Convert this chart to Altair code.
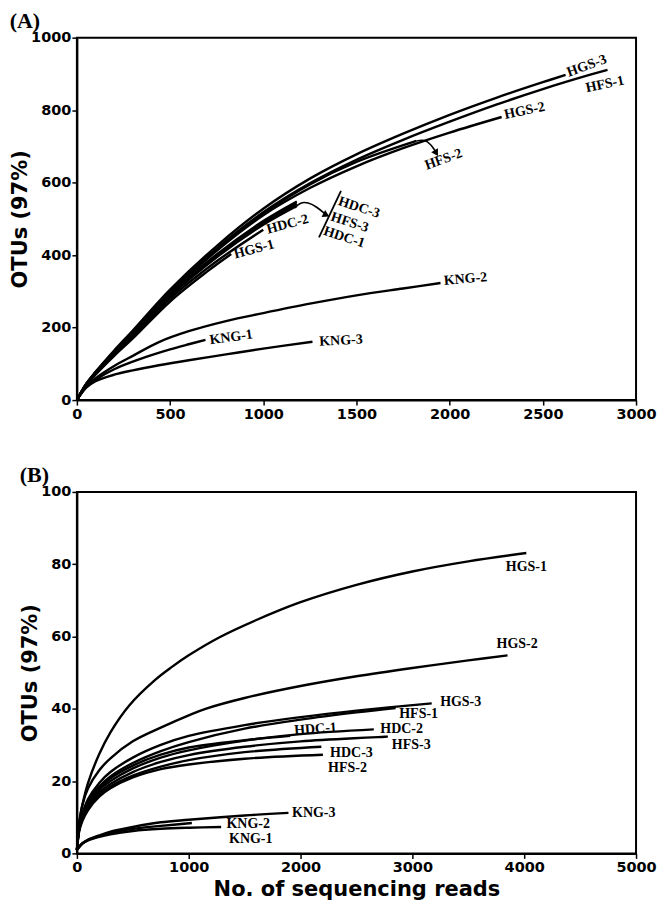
import altair as alt
import pandas as pd

# ---------------- Panel A data (reads vs OTUs) ----------------
A_NAMES = ["HGS-3", "HFS-1", "HGS-2", "HFS-2", "HDC-3", "HFS-3", "HDC-1",
           "HDC-2", "HGS-1", "KNG-2", "KNG-1", "KNG-3"]
A_X = {
    "HGS-3": [0, 50, 100, 200, 300, 500, 750, 1000, 1250, 1500, 1750, 2000, 2250, 2500, 2622],
    "HFS-1": [0, 50, 100, 200, 300, 500, 750, 1000, 1250, 1500, 1750, 2000, 2250, 2500, 2750, 2847],
    "HGS-2": [0, 50, 100, 200, 300, 500, 750, 1000, 1250, 1500, 1750, 2000, 2279],
    "HFS-2": [0, 50, 100, 200, 300, 500, 750, 1000, 1250, 1500, 1822],
    "HDC-3": [0, 50, 100, 200, 300, 500, 750, 1000, 1180],
    "HFS-3": [0, 50, 100, 200, 300, 500, 750, 1000, 1180],
    "HDC-1": [0, 50, 100, 200, 300, 500, 750, 1000, 1180],
    "HDC-2": [0, 50, 100, 200, 300, 500, 750, 1000],
    "HGS-1": [0, 50, 100, 200, 300, 500, 700, 828],
    "KNG-2": [0, 50, 100, 200, 300, 440, 600, 800, 1000, 1250, 1500, 1750, 1951],
    "KNG-1": [0, 50, 100, 200, 300, 400, 500, 600, 690],
    "KNG-3": [0, 50, 100, 200, 300, 440, 600, 800, 1000, 1264],
}
A_Y = {
    "HGS-3": [0, 45, 78, 137, 192, 305, 425, 528, 611, 678, 735, 787, 834, 877, 897],
    "HFS-1": [0, 44, 76, 134, 188, 300, 418, 518, 598, 663, 718, 768, 815, 858, 897, 911],
    "HGS-2": [0, 43, 75, 132, 186, 296, 412, 510, 585, 645, 695, 738, 781],
    "HFS-2": [0, 44, 76, 133, 187, 298, 415, 514, 595, 657, 715],
    "HDC-3": [0, 44, 75, 132, 184, 292, 402, 494, 548],
    "HFS-3": [0, 43, 74, 130, 182, 289, 398, 489, 542],
    "HDC-1": [0, 43, 74, 129, 180, 286, 394, 484, 536],
    "HDC-2": [0, 42, 72, 126, 176, 280, 383, 470],
    "HGS-1": [0, 41, 70, 122, 170, 272, 355, 403],
    "KNG-2": [0, 38, 60, 94, 122, 160, 190, 218, 240, 266, 289, 308, 323],
    "KNG-1": [0, 36, 56, 85, 106, 124, 140, 154, 166],
    "KNG-3": [0, 34, 52, 70, 82, 96, 110, 126, 142, 161],
}
A_LABELS = ["HGS-3", "HFS-1", "HGS-2", "HFS-2", "HDC-3", "HFS-3", "HDC-1",
            "HDC-2", "HGS-1", "KNG-2", "KNG-1", "KNG-3"]
A_LABEL_X = [2736, 2833, 2402, 1967, 1514, 1464, 1434, 1130, 951, 2085, 828, 1417]
A_LABEL_Y = [922, 871, 798, 664, 531, 490, 449, 485, 416, 334, 173, 164]
A_LABEL_ANGLE = [340, 348, 348, 340, 18, 18, 18, 345, 345, 355, 352, 357]

# annotation arrows / bracket in panel A
ARROW1_X = [1170, 1195, 1240, 1290, 1330]
ARROW1_Y = [530, 545, 546, 532, 514]
ARROW2_X = [1822, 1865, 1900, 1922]
ARROW2_Y = [715, 719, 705, 688]
BAR_X = [1417, 1299]
BAR_Y = [577, 449]
HEAD_X = [1333, 1925]
HEAD_Y = [512, 684]
HEAD_ANGLE = [118, 150]

# ---------------- Panel B data ----------------
B_NAMES = ["HGS-1", "HGS-2", "HGS-3", "HFS-1", "HDC-1", "HDC-2", "HFS-3",
           "HDC-3", "HFS-2", "KNG-3", "KNG-2", "KNG-1"]
B_X = {
    "HGS-1": [1, 20, 50, 100, 200, 300, 470, 700, 850, 1000, 1276, 1600, 2000, 2500, 3000, 3500, 4019],
    "HGS-2": [1, 20, 50, 100, 200, 300, 500, 750, 1000, 1150, 1500, 2000, 2500, 3000, 3500, 3851],
    "HGS-3": [1, 20, 50, 100, 200, 300, 500, 750, 1000, 1500, 2000, 2500, 3173],
    "HFS-1": [1, 20, 50, 100, 200, 300, 500, 750, 1000, 1500, 2000, 2500, 2850],
    "HDC-1": [1, 20, 50, 100, 200, 300, 500, 750, 1000, 1500, 1907],
    "HDC-2": [1, 20, 50, 100, 200, 300, 500, 750, 1000, 1500, 2000, 2655],
    "HFS-3": [1, 20, 50, 100, 200, 300, 500, 750, 1000, 1500, 2000, 2781],
    "HDC-3": [1, 20, 50, 100, 200, 300, 500, 750, 1000, 1500, 2186],
    "HFS-2": [1, 20, 50, 100, 200, 300, 500, 750, 1000, 1500, 2200],
    "KNG-3": [1, 50, 100, 200, 300, 500, 750, 1000, 1500, 1892],
    "KNG-2": [1, 50, 100, 200, 300, 500, 750, 1028],
    "KNG-1": [1, 50, 100, 200, 300, 500, 750, 1000, 1290],
}
B_Y = {
    "HGS-1": [1, 8.5, 13.5, 19.5, 27.5, 33.5, 41, 48, 51.6, 54.8, 59.8, 64.5, 69.5, 74.3, 78, 80.8, 83.1],
    "HGS-2": [1, 8, 13.5, 18, 23, 26.3, 31, 34.8, 38.2, 40, 43, 46.3, 49, 51.3, 53.4, 54.8],
    "HGS-3": [1, 7, 11, 15, 19.5, 22.5, 26.5, 30, 32.5, 35.5, 37.7, 39.5, 41.5],
    "HFS-1": [1, 7, 10.5, 14.5, 18.5, 21.3, 25, 28.3, 30.8, 34.5, 37, 39, 40.2],
    "HDC-1": [1, 7, 10.5, 14, 18, 20.8, 24.3, 27.3, 29.3, 31.3, 32.5],
    "HDC-2": [1, 6.5, 10, 13.5, 17.5, 20, 23.5, 26.5, 28.5, 31.2, 33, 34.3],
    "HFS-3": [1, 6.5, 10, 13, 16.8, 19.2, 22.5, 25.3, 27.2, 29.5, 31, 32.3],
    "HDC-3": [1, 6.5, 9.5, 12.5, 16.2, 18.5, 21.5, 24, 25.8, 28, 29.5],
    "HFS-2": [1, 6, 9, 12, 15.7, 18, 21, 23.3, 24.6, 26.2, 27.3],
    "KNG-3": [1, 2.8, 3.8, 5, 6, 7.3, 8.6, 9.3, 10.5, 11.2],
    "KNG-2": [1, 2.8, 3.7, 4.8, 5.7, 6.8, 7.6, 8.4],
    "KNG-1": [1, 2.7, 3.6, 4.6, 5.3, 6.2, 6.8, 7.1, 7.3],
}
B_LABELS = ["HGS-1", "HGS-2", "HGS-3", "HFS-1", "HDC-1", "HDC-2", "HFS-3",
            "HDC-3", "HFS-2", "KNG-3", "KNG-2", "KNG-1"]
B_LABEL_X = [4019, 3937, 3432, 3056, 2133, 2904, 2990, 2455, 2420, 2118, 1532, 1555]
B_LABEL_Y = [79.2, 57.8, 41.9, 38.6, 34.4, 34.4, 30.0, 27.7, 23.6, 11.2, 8.2, 3.9]
B_LABEL_ANGLE = [0, 0, 0, 0, 356, 0, 0, 0, 0, 0, 0, 0]

A_XTICKS = [0, 500, 1000, 1500, 2000, 2500, 3000]
A_YTICKS = [0, 200, 400, 600, 800, 1000]
B_XTICKS = [0, 1000, 2000, 3000, 4000, 5000]
B_YTICKS = [0, 20, 40, 60, 80, 100]


def long_df(names, xs, ys):
    rows = []
    for n in names:
        for i, (x, y) in enumerate(zip(xs[n], ys[n])):
            rows.append({"series": n, "reads": x, "otus": y, "idx": i})
    return pd.DataFrame(rows)


LABEL_FONT = "Liberation Serif"
AXIS_FONT = "DejaVu Sans"
W = 560


def axis_kw():
    return dict(format="d", labelOverlap=False, grid=False,
                labelFont=AXIS_FONT, labelFontWeight="bold", labelFontSize=14.5, labelColor="black",
                titleFont=AXIS_FONT, titleFontWeight="bold", titleFontSize=21, titleColor="black",
                tickColor="black", tickSize=5, tickWidth=1.5, domainColor="black", domainWidth=2)


def make_x_axis(ticks, title):
    if title is None:
        return alt.Axis(values=ticks, title=None, labelFlush=False, labelPadding=2, **axis_kw())
    return alt.Axis(values=ticks, title=title, labelFlush=False, labelPadding=2,
                    titlePadding=5, **axis_kw())


def make_y_axis(ticks):
    return alt.Axis(values=ticks, title="OTUs (97%)", labelPadding=1, titlePadding=0, **axis_kw())


def panel(names, xs, ys, labels, lx, ly, la, xdom, ydom, xticks, yticks, xtitle, ptitle, height, extra=None):
    df = long_df(names, xs, ys)
    xsc = alt.Scale(domain=xdom, nice=False, zero=True)
    ysc = alt.Scale(domain=ydom, nice=False, zero=True)
    lines = alt.Chart(df).mark_line(color="black", strokeWidth=2.4, interpolate="catmull-rom").encode(
        x=alt.X("reads:Q", scale=xsc, axis=make_x_axis(xticks, xtitle)),
        y=alt.Y("otus:Q", scale=ysc, axis=make_y_axis(yticks)),
        detail="series:N",
        order="idx:Q",
    )
    ldf = pd.DataFrame({"label": labels, "lx": lx, "ly": ly, "ang": la})
    text = alt.Chart(ldf).mark_text(font=LABEL_FONT, fontWeight="bold", fontSize=14,
                                    color="black", align="center", baseline="middle").encode(
        x=alt.X("lx:Q", scale=xsc),
        y=alt.Y("ly:Q", scale=ysc),
        text="label:N",
        angle=alt.Angle("ang:Q", scale=None),
    )
    layers = [lines, text]
    if extra is not None:
        layers += extra(xsc, ysc)
    return alt.layer(*layers).properties(
        width=W, height=height,
        title=alt.TitleParams(text=ptitle, anchor="start", frame="bounds", offset=-3,
                              font=LABEL_FONT, fontWeight="bold", fontSize=22, color="black"),
    )


def annotations(xsc, ysc):
    rows = []
    for i, (x, y) in enumerate(zip(ARROW1_X, ARROW1_Y)):
        rows.append({"g": "a1", "x": x, "y": y, "i": i})
    for i, (x, y) in enumerate(zip(ARROW2_X, ARROW2_Y)):
        rows.append({"g": "a2", "x": x, "y": y, "i": i})
    adf = pd.DataFrame(rows)
    arr = alt.Chart(adf).mark_line(color="black", strokeWidth=1.6, interpolate="basis").encode(
        x=alt.X("x:Q", scale=xsc), y=alt.Y("y:Q", scale=ysc), detail="g:N", order="i:Q")
    bdf = pd.DataFrame({"x": BAR_X, "y": BAR_Y, "i": [0, 1]})
    bar = alt.Chart(bdf).mark_line(color="black", strokeWidth=1.8).encode(
        x=alt.X("x:Q", scale=xsc), y=alt.Y("y:Q", scale=ysc), order="i:Q")
    hdf = pd.DataFrame({"x": HEAD_X, "y": HEAD_Y, "ang": HEAD_ANGLE})
    heads = alt.Chart(hdf).mark_point(shape="triangle", filled=True, color="black", size=60,
                                      opacity=1).encode(
        x=alt.X("x:Q", scale=xsc), y=alt.Y("y:Q", scale=ysc),
        angle=alt.Angle("ang:Q", scale=None))
    return [arr, bar, heads]


chartA = panel(A_NAMES, A_X, A_Y, A_LABELS, A_LABEL_X, A_LABEL_Y, A_LABEL_ANGLE,
               [0, 3000], [0, 1000], A_XTICKS, A_YTICKS, None, "(A)", 363, extra=annotations)
chartB = panel(B_NAMES, B_X, B_Y, B_LABELS, B_LABEL_X, B_LABEL_Y, B_LABEL_ANGLE,
               [0, 5000], [0, 100], B_XTICKS, B_YTICKS, "No. of sequencing reads", "(B)", 362)

chart = alt.vconcat(chartA, chartB, spacing=41).properties(
    padding={"left": 0, "top": 0, "right": 0, "bottom": 0},
    background="white",
).configure_view(
    stroke="black", strokeWidth=2
)

chart.save("out.html", embed_options={"renderer": "svg", "actions": False})
